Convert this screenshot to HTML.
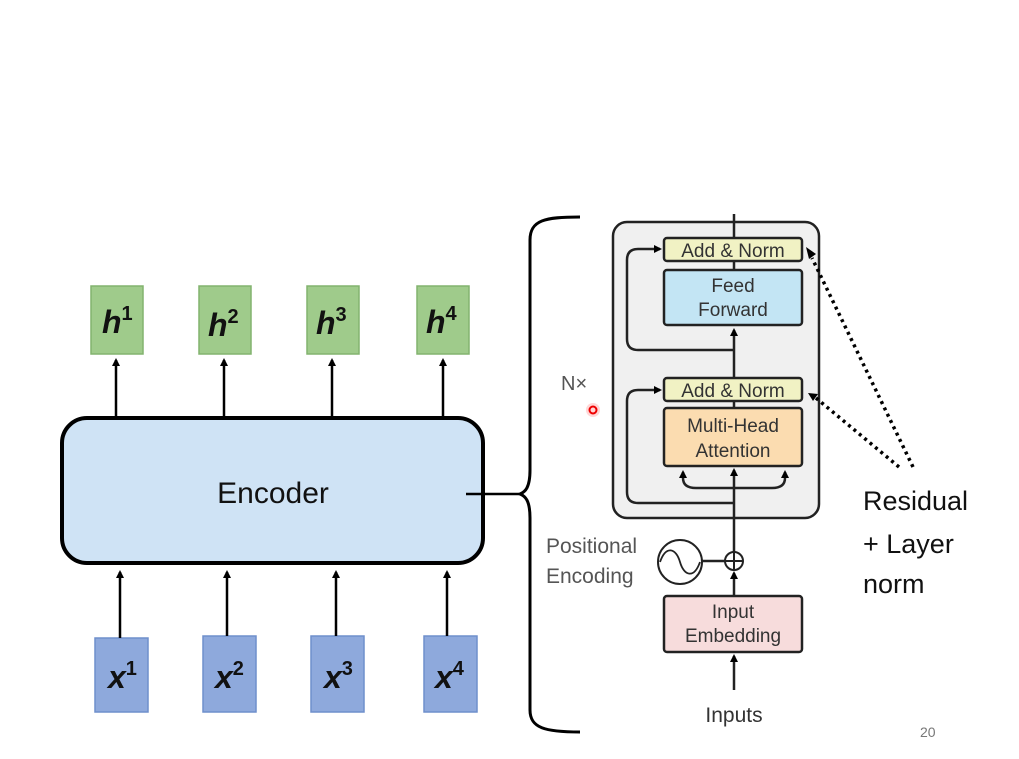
<!DOCTYPE html>
<html><head><meta charset="utf-8"><style>
html,body{margin:0;padding:0;background:#fff;}
svg{display:block;}
text{font-family:"Liberation Sans",sans-serif;}
</style></head><body>
<svg width="1019" height="759" viewBox="0 0 1019 759" xmlns="http://www.w3.org/2000/svg">
<defs>
<marker id="a" markerWidth="8" markerHeight="8" refX="6" refY="4" orient="auto" markerUnits="userSpaceOnUse"><path d="M0,0 L8,4 L0,8 Z" fill="#000"/></marker>
</defs>
<g fill="#9fcb8b" stroke="#82b36e" stroke-width="1.5">
<rect x="91" y="286" width="52" height="68"/><rect x="199" y="286" width="52" height="68"/>
<rect x="307" y="286" width="52" height="68"/><rect x="417" y="286" width="52" height="68"/>
</g>
<g font-family="Liberation Serif,serif" font-style="italic" font-weight="bold" font-size="32" fill="#111">
<text x="102" y="333">h<tspan font-size="20" dy="-13" font-style="normal">1</tspan></text>
<text x="208" y="336">h<tspan font-size="20" dy="-13" font-style="normal">2</tspan></text>
<text x="316" y="334">h<tspan font-size="20" dy="-13" font-style="normal">3</tspan></text>
<text x="426" y="333">h<tspan font-size="20" dy="-13" font-style="normal">4</tspan></text>
</g>
<g fill="#8ea9dc" stroke="#6f8fcc" stroke-width="1.5">
<rect x="95" y="638" width="53" height="74"/><rect x="203" y="636" width="53" height="76"/>
<rect x="311" y="636" width="53" height="76"/><rect x="424" y="636" width="53" height="76"/>
</g>
<g font-family="Liberation Serif,serif" font-style="italic" font-weight="bold" font-size="32" fill="#111">
<text x="108" y="688">x<tspan font-size="20" dy="-13" font-style="normal">1</tspan></text>
<text x="215" y="688">x<tspan font-size="20" dy="-13" font-style="normal">2</tspan></text>
<text x="324" y="688">x<tspan font-size="20" dy="-13" font-style="normal">3</tspan></text>
<text x="435" y="688">x<tspan font-size="20" dy="-13" font-style="normal">4</tspan></text>
</g>
<g stroke="#000" stroke-width="2.5" marker-end="url(#a)">
<line x1="116" y1="417" x2="116" y2="360"/><line x1="224" y1="417" x2="224" y2="360"/>
<line x1="332" y1="417" x2="332" y2="360"/><line x1="443" y1="417" x2="443" y2="360"/>
<line x1="120" y1="638" x2="120" y2="572"/><line x1="227" y1="636" x2="227" y2="572"/>
<line x1="336" y1="636" x2="336" y2="572"/><line x1="447" y1="636" x2="447" y2="572"/>
</g>
<rect x="62" y="418" width="421" height="145" rx="25" fill="#cfe3f5" stroke="#000" stroke-width="4"/>
<text x="273" y="503" font-size="30" text-anchor="middle" fill="#111">Encoder</text>
<line x1="466" y1="494" x2="522" y2="494" stroke="#000" stroke-width="2.5"/>
<path d="M580,217 C545,217 530,220 530,240 L530,470 C530,488 525,492 520,494 C525,496 530,500 530,518 L530,710 C530,728 545,732 580,732" fill="none" stroke="#000" stroke-width="3"/>
<rect x="613" y="222" width="206" height="296" rx="14" fill="#f0f0f0" stroke="#222" stroke-width="2.5"/>
<g stroke="#222" stroke-width="2.5" fill="none">
<line x1="734" y1="214" x2="734" y2="238"/>
<line x1="734" y1="261" x2="734" y2="270"/>
<line x1="734" y1="378" x2="734" y2="330" marker-end="url(#a)"/>
<line x1="734" y1="401" x2="734" y2="408"/>
<line x1="734" y1="552" x2="734" y2="470" marker-end="url(#a)"/>
<line x1="734" y1="690" x2="734" y2="656" marker-end="url(#a)"/>
<line x1="734" y1="596" x2="734" y2="573" marker-end="url(#a)"/>
<path d="M734,350 L638,350 Q627,350 627,339 L627,260 Q627,249 638,249 L660,249" marker-end="url(#a)"/>
<path d="M734,503 L638,503 Q627,503 627,492 L627,401 Q627,390 638,390 L660,390" marker-end="url(#a)"/>
<path d="M696,488 L772,488" />
<path d="M696,488 Q683,488 683,478 L683,472" marker-end="url(#a)"/>
<path d="M772,488 Q785,488 785,478 L785,472" marker-end="url(#a)"/>
<line x1="702" y1="561" x2="725" y2="561"/>
</g>
<rect x="664" y="238" width="138" height="23" rx="3" fill="#f1f2c4" stroke="#222" stroke-width="2.5"/>
<rect x="664" y="270" width="138" height="55" rx="3" fill="#c3e5f4" stroke="#222" stroke-width="2.5"/>
<rect x="664" y="378" width="138" height="23" rx="3" fill="#f1f2c4" stroke="#222" stroke-width="2.5"/>
<rect x="664" y="408" width="138" height="58" rx="3" fill="#fbdcb0" stroke="#222" stroke-width="2.5"/>
<rect x="664" y="596" width="138" height="56" rx="3" fill="#f7dcdc" stroke="#222" stroke-width="2.5"/>
<g font-size="19" fill="#333" text-anchor="middle">
<text x="733" y="257">Add &amp; Norm</text>
<text x="733" y="292">Feed</text><text x="733" y="316">Forward</text>
<text x="733" y="397">Add &amp; Norm</text>
<text x="733" y="432">Multi-Head</text><text x="733" y="457">Attention</text>
<text x="733" y="618">Input</text><text x="733" y="642">Embedding</text>
<text x="734" y="722" font-size="21">Inputs</text>
</g>
<g font-size="21" fill="#555">
<text x="546" y="553">Positional</text><text x="546" y="583">Encoding</text>
<text x="561" y="390" font-size="20">N×</text>
</g>
<circle cx="680" cy="562" r="22" fill="#fff" stroke="#222" stroke-width="2"/>
<path d="M660,562 C666,545 676,548 680,562 C684,576 694,579 700,562" fill="none" stroke="#222" stroke-width="1.8"/>
<circle cx="734" cy="561" r="9" fill="#fff" stroke="#222" stroke-width="2"/>
<path d="M725,561 H743 M734,552 V570" stroke="#222" stroke-width="2"/>
<circle cx="593" cy="410" r="7" fill="#ffd6d6"/><circle cx="593" cy="410" r="3.5" fill="none" stroke="#e00" stroke-width="2"/>
<g stroke="#000" stroke-width="3.5" stroke-dasharray="3,4" fill="none">
<line x1="913" y1="467" x2="812" y2="258"/>
<line x1="899" y1="467" x2="816" y2="398"/>
</g>
<path d="M806,247 L816,254 L809,259 Z" fill="#000"/>
<path d="M808,393 L818,394 L813,401 Z" fill="#000"/>
<g font-size="27" fill="#111">
<text x="863" y="510">Residual</text><text x="863" y="553">+ Layer</text><text x="863" y="593">norm</text>
</g>
<text x="920" y="737" font-size="14" fill="#777">20</text>
</svg>
</body></html>
